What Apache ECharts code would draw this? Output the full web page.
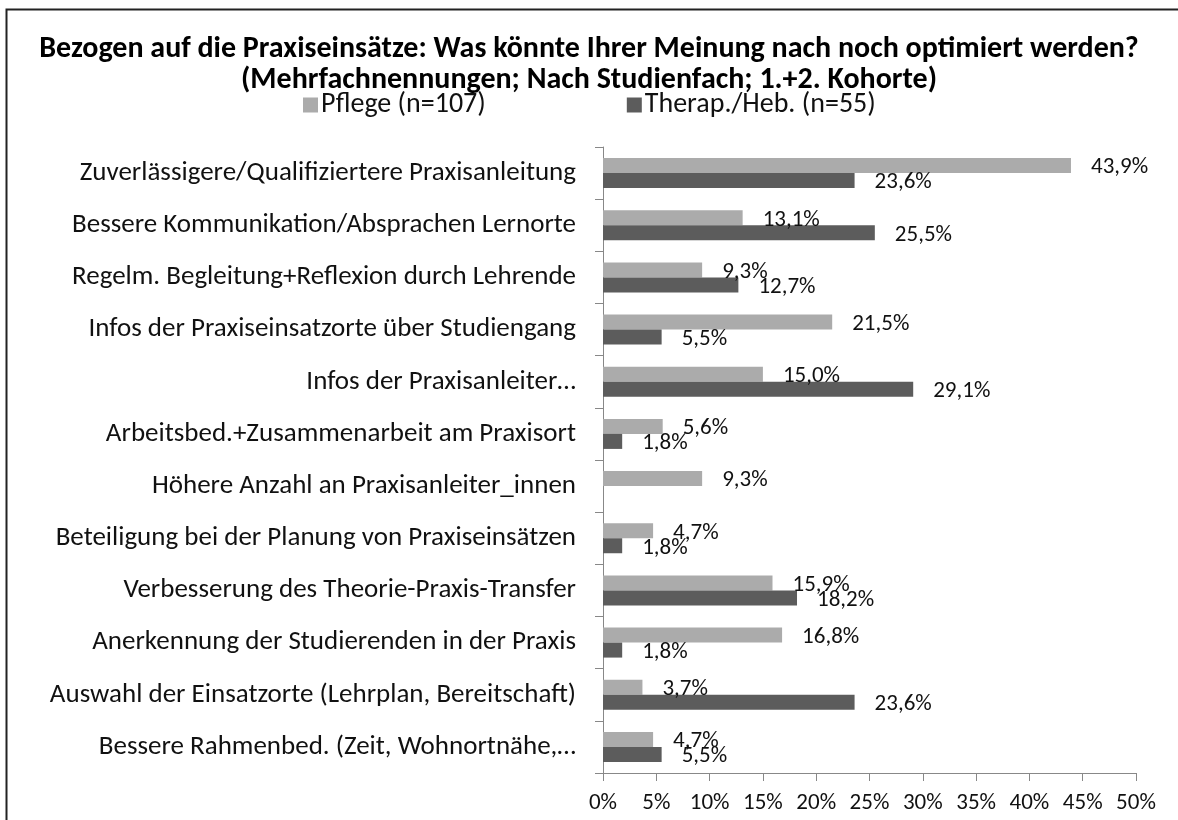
<!DOCTYPE html>
<html>
<head>
<meta charset="utf-8">
<script src="https://cdn.jsdelivr.net/npm/echarts@6/dist/echarts.min.js"></script>
<style>
  html, body { margin: 0; padding: 0; background: #fff; }
  #chart { width: 1178px; height: 820px; }
</style>
</head>
<body>
<div id="chart"></div>
<script>
const categories = [
  'Zuverlässigere/Qualifiziertere Praxisanleitung',
  'Bessere Kommunikation/Absprachen Lernorte',
  'Regelm. Begleitung+Reflexion durch Lehrende',
  'Infos der Praxiseinsatzorte über Studiengang',
  'Infos der Praxisanleiter…',
  'Arbeitsbed.+Zusammenarbeit am Praxisort',
  'Höhere Anzahl an Praxisanleiter_innen',
  'Beteiligung bei der Planung von Praxiseinsätzen',
  'Verbesserung des Theorie-Praxis-Transfer',
  'Anerkennung der Studierenden in der Praxis',
  'Auswahl der Einsatzorte (Lehrplan, Bereitschaft)',
  'Bessere Rahmenbed. (Zeit, Wohnortnähe,…'
];
const pflege = [43.9, 13.1, 9.3, 21.5, 15.0, 5.6, 9.3, 4.7, 15.9, 16.8, 3.7, 4.7];
const therap = [23.6, 25.5, 12.7, 5.5, 29.1, 1.8, null, 1.8, 18.2, 1.8, 23.6, 5.5];
const seriesNames = ['Pflege (n=107)', 'Therap./Heb. (n=55)'];

const font = 'Carlito, Lato, "Open Sans", sans-serif';
const pct = (p) => p.value == null ? '' : p.value.toFixed(1).replace('.', ',') + '%';

const chart = echarts.init(document.getElementById('chart'));
chart.setOption({
  animation: false,
  backgroundColor: '#fff',
  title: {
    text: 'Bezogen auf die Praxiseinsätze: Was könnte Ihrer Meinung nach noch optimiert werden?\n(Mehrfachnennungen; Nach Studienfach; 1.+2. Kohorte)',
    left: 'center',
    top: 29,
    textStyle: { fontFamily: font, fontSize: 30, fontWeight: 'bold', color: '#000', lineHeight: 31 }
  },
  legend: {
    data: seriesNames,
    top: 86,
    left: 298,
    itemWidth: 15,
    itemHeight: 15,
    itemGap: 141,
    icon: 'rect',
    textStyle: { fontFamily: font, fontSize: 28, color: '#111', padding: [0, 0, 0, -2] }
  },
  graphic: [{
    type: 'rect',
    shape: { x: 6.5, y: 9.5, width: 1300, height: 900 },
    style: { fill: null, stroke: '#222', lineWidth: 2 },
    silent: true
  }],
  grid: { left: 603, right: 42, top: 147, bottom: 47, containLabel: false },
  xAxis: {
    type: 'value',
    min: 0,
    max: 50,
    interval: 5,
    axisLine: { show: true, lineStyle: { color: '#888' } },
    axisTick: { show: true, length: 8, lineStyle: { color: '#888' } },
    splitLine: { show: false },
    axisLabel: { formatter: '{value}%', fontFamily: font, fontSize: 23, color: '#111', margin: 19 }
  },
  yAxis: {
    type: 'category',
    inverse: true,
    data: categories,
    axisLine: { show: true, lineStyle: { color: '#888' } },
    axisTick: { show: true, length: 8, lineStyle: { color: '#888' } },
    axisLabel: { fontFamily: font, fontSize: 27, color: '#111', margin: 27 }
  },
  series: [{
    name: seriesNames[0],
    type: 'bar',
    data: pflege,
    barWidth: 15,
    barGap: '0%',
    itemStyle: { color: '#ababab' },
    label: { show: true, position: 'right', distance: 20, offset: [0, 2], formatter: pct, fontFamily: font, fontSize: 23, color: '#111' }
  }, {
    name: seriesNames[1],
    type: 'bar',
    data: therap,
    barWidth: 15,
    barGap: '0%',
    itemStyle: { color: '#5c5c5c' },
    label: { show: true, position: 'right', distance: 20, offset: [0, 2], formatter: pct, fontFamily: font, fontSize: 23, color: '#111' }
  }]
});
</script>
</body>
</html>
